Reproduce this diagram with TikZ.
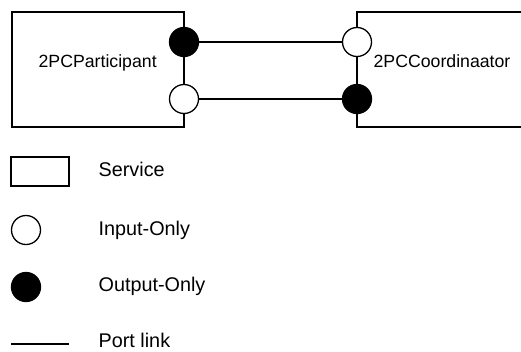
\documentclass[tikz,border=0pt]{standalone}
\usepackage{fontspec}
\setmainfont{Liberation Sans}
\begin{document}
\begin{tikzpicture}[x=1pt,y=-1pt,
  line width=1.3pt,
  service/.style={draw,rectangle,inner sep=0pt,outer sep=0pt},
  inport/.style={draw,circle,fill=white,minimum size=29pt,inner sep=0pt},
  outport/.style={draw,circle,fill=black,minimum size=29pt,inner sep=0pt},
  lbl/.style={font=\fontsize{17.7}{20}\selectfont,inner sep=0pt,anchor=base west},
  leg/.style={font=\fontsize{19.8}{22}\selectfont,inner sep=0pt,anchor=base west}]
  \useasboundingbox (0,0) rectangle (521,351);

  % services
  \node[service,minimum width=172pt,minimum height=115pt,anchor=north west] (part) at (12,12) {};
  \node[service,minimum width=200pt,minimum height=115pt,anchor=north west] (coord) at (357,12) {};
  \node[lbl] (partlbl) at (38,67) {2PCParticipant};
  \node[lbl] (coordlbl) at (373,67.5) {2PCCoordinaator};

  % port links
  \coordinate (pa) at (184,42);
  \coordinate (pb) at (184,99);
  \coordinate (ca) at (357,42);
  \coordinate (cb) at (357,99);
  \draw (pa) -- (ca);
  \draw (pb) -- (cb);

  % ports
  \node[outport] (pout) at (pa) {};
  \node[inport]  (pin)  at (pb) {};
  \node[inport]  (cin)  at (ca) {};
  \node[outport] (cout) at (cb) {};

  % legend
  \node[service,minimum width=58pt,minimum height=29pt,anchor=north west] (legsvc) at (11,157) {};
  \node[leg] (legsvclbl) at (98,176.5) {Service};
  \node[inport] (legin) at (26,230) {};
  \node[leg] (leginlbl) at (98,235) {Input-Only};
  \node[outport] (legout) at (26,287) {};
  \node[leg] (legoutlbl) at (98,291.5) {Output-Only};
  \coordinate (lla) at (11,344);
  \coordinate (llb) at (69,344);
  \draw (lla) -- (llb);
  \node[leg] (leglinklbl) at (98,347.5) {Port link};
\end{tikzpicture}
\end{document}
